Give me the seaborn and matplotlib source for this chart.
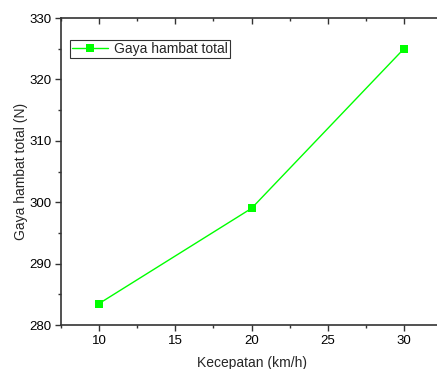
import pandas as pd
import seaborn as sns
import matplotlib.pyplot as plt
from matplotlib.ticker import MultipleLocator

# Data
kecepatan = [10, 20, 30]
gaya_hambat = [283.5, 299, 325]

df = pd.DataFrame({"Kecepatan": kecepatan, "Gaya": gaya_hambat})

sns.set_style("ticks")
plt.rcParams['font.family'] = ['Liberation Sans', 'DejaVu Sans']

fig = plt.figure(figsize=(4.37, 3.69), dpi=100)
ax = fig.add_axes([0.1396, 0.1192, 0.872, 0.832])

sns.lineplot(data=df, x="Kecepatan", y="Gaya", ax=ax, color="#00FF00",
             marker="s", markersize=6, markeredgewidth=0, linewidth=1,
             label="Gaya hambat total")

ax.set_xlim(7.5, 32.5)
ax.set_ylim(280, 330)
ax.xaxis.set_major_locator(MultipleLocator(5))
ax.xaxis.set_minor_locator(MultipleLocator(2.5))
ax.yaxis.set_major_locator(MultipleLocator(10))
ax.yaxis.set_minor_locator(MultipleLocator(5))

for side in ["left", "bottom", "top", "right"]:
    ax.spines[side].set_color("#333333")
    ax.spines[side].set_linewidth(1.2)

ax.tick_params(which="both", direction="out", colors="#333333", labelcolor="black",
               labelsize=9.5, top=True, right=False, pad=3)
ax.tick_params(which="major", length=4, width=1)
ax.tick_params(which="minor", length=2.5, width=1)
ax.tick_params(axis="x", which="both", labeltop=False)
# top ticks point inward like the original
for t in ax.xaxis.get_major_ticks() + ax.xaxis.get_minor_ticks():
    t.tick2line.set_marker(3)

ax.set_xlabel("Kecepatan (km/h)", fontsize=10, labelpad=7)
ax.set_ylabel("Gaya hambat total (N)", fontsize=10, labelpad=1)

leg = ax.legend(loc="upper left", bbox_to_anchor=(0.024, 0.928), fontsize=10,
                frameon=True, fancybox=False, edgecolor="black",
                handlelength=2.6, borderpad=0.15, handletextpad=0.4,
                borderaxespad=0)
leg.get_frame().set_linewidth(0.8)

plt.savefig("out.png", dpi=100)
